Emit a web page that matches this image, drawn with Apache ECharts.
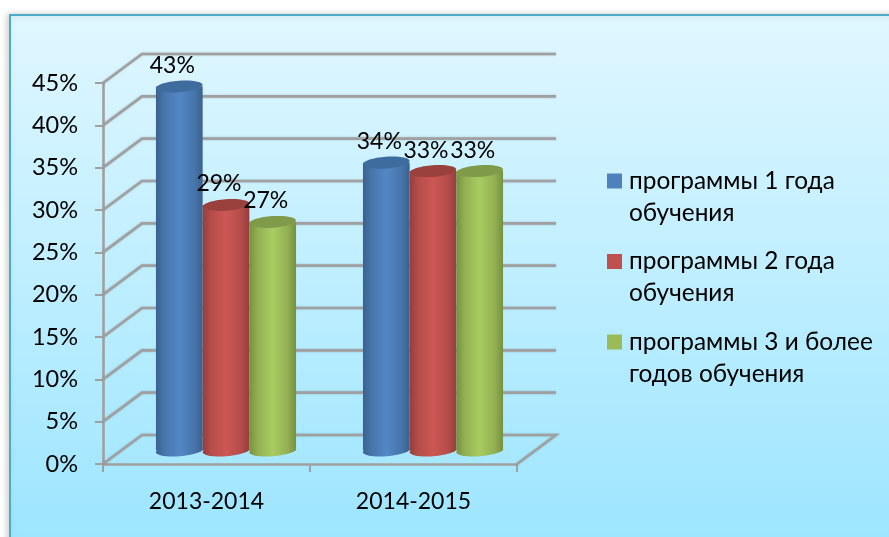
<!DOCTYPE html>
<html>
<head>
<meta charset="utf-8">
<style>
html,body{margin:0;padding:0;background:#fff;}
#main{width:889px;height:537px;}
</style>
<script src="https://cdn.jsdelivr.net/npm/echarts@6/dist/echarts.min.js"></script>
</head>
<body>
<div id="main"></div>
<script>
var categories = ['2013-2014', '2014-2015'];
var seriesNames = ['программы 1 года\nобучения', 'программы 2 года\nобучения', 'программы 3 и более\nгодов обучения'];
var values1 = [43, 34];
var values2 = [29, 33];
var values3 = [27, 33];
var wallTicks = [0, 5, 10, 15, 20, 25, 30, 35, 40, 45];

var fontName = 'Lato, "Noto Sans", sans-serif';
var depthX = 39, depthY = 29;//3d depth of the back wall
var lineColor = '#a0a0a0';

function wallItem(params, api){
	var sys = params.coordSys;
	var y = api.coord([0, api.value(0)])[1];
	var x0 = sys.x, x1 = sys.x + sys.width;
	var pts = [[x0, y], [x0 + depthX, y - depthY], [x1 + depthX, y - depthY]];
	if(api.value(0) == 0){
		pts.push([x1, y]);//floor closes at the right
	}
	return {
		type : 'polyline',
		shape : {points : pts},
		style : {fill : 'none', stroke : lineColor, lineWidth : 2.6, shadowColor : 'rgba(90,90,90,0.35)', shadowBlur : 2}
	};
}

function barItem(colors, index){
	return function(params, api){
		var band = api.size([1, 0])[0];
		var w = band * 0.2256;
		var p = api.coord([api.value(0), api.value(1)]);
		var base = api.coord([api.value(0), 0])[1] - depthY / 2 + 1;
		var top = p[1] - depthY / 2 + 1;
		var cx = p[0] + depthX / 2 + (index - 1) * w;
		var ry = 5.8, tilt = 0.07;
		var grad = new echarts.graphic.LinearGradient(0, 0, 1, 0, [
			{offset : 0, color : colors[0]},
			{offset : 0.18, color : colors[1]},
			{offset : 0.5, color : colors[2]},
			{offset : 0.82, color : colors[1]},
			{offset : 1, color : colors[0]}
		]);
		return {
			type : 'group',
			children : [{
				type : 'ellipse',
				x : cx, y : base, rotation : tilt,
				shape : {cx : 0, cy : 0, rx : w / 2, ry : ry},
				style : {fill : grad}
			}, {
				type : 'rect',
				shape : {x : cx - w / 2, y : top, width : w, height : base - top},
				style : {fill : grad}
			}, {
				type : 'ellipse',
				x : cx, y : top, rotation : tilt,
				shape : {cx : 0, cy : 0, rx : w / 2, ry : ry},
				style : {fill : colors[3]}
			}, {
				type : 'text',
				z2 : 100,
				x : cx - 7, y : top - 21,
				style : {
					text : api.value(1) + '%',
					fill : '#000',
					font : '23px ' + fontName,
					textAlign : 'center',
					textVerticalAlign : 'middle'
				}
			}]
		};
	};
}

function barData(values){
	var arr = [];
	for(var i=0;i<values.length;i++){
		arr.push([i, values[i]]);
	}
	return arr;
}

var barColors = [
	['#3a628f', '#4775ab', '#5387c5', '#3f6c9f'],
	['#933f3c', '#b54d4a', '#cd5754', '#9a413d'],
	['#76913f', '#92b052', '#a8cc62', '#7f9a49']
];
var legendColors = ['#4f81bd', '#c0504d', '#9bbb59'];

var myChart = echarts.init(document.getElementById('main'));
var option = {
	animation : false,
	graphic : [{
		type : 'rect',
		z : -10,
		shape : {x : 10, y : 15, width : 900, height : 540},
		style : {
			fill : new echarts.graphic.LinearGradient(0, 0, 0, 1, [
				{offset : 0, color : '#e0f7ff'},
				{offset : 1, color : '#9be5ff'}
			]),
			stroke : '#4bacc6',
			lineWidth : 2,
			shadowColor : 'rgba(0,0,0,0.18)',
			shadowBlur : 7,
			shadowOffsetX : -2
		}
	}],
	legend : {
		orient : 'vertical',
		left : 607,
		top : 165,
		padding : 0,
		itemWidth : 15,
		itemHeight : 47,
		itemGap : 16.5,
		selectedMode : false,
		//tiny second square stretches the icon so the marker stays on the first text line
		icon : 'path://M0,0H15V15H0Z M0,47H0.01V47.01H0Z',
		textStyle : {fontFamily : fontName, fontSize : 24.4, lineHeight : 32, color : '#000', padding : [0, 0, 0, 2]},
		data : seriesNames
	},
	grid : {left : 103, top : 83, width : 414, height : 381},
	xAxis : {
		type : 'category',
		data : categories,
		axisLine : {lineStyle : {color : lineColor, width : 2.6}},
		axisTick : {show : true, length : 8, alignWithLabel : false, lineStyle : {color : lineColor, width : 2}},
		axisLabel : {color : '#000', fontFamily : fontName, fontSize : 23, margin : 26}
	},
	yAxis : {
		type : 'value',
		min : 0,
		max : 45,
		interval : 5,
		splitLine : {show : false},
		axisLine : {show : true, lineStyle : {color : lineColor, width : 2.6}},
		axisTick : {show : true, length : 8, lineStyle : {color : lineColor, width : 2}},
		axisLabel : {color : '#000', fontFamily : fontName, fontSize : 23.5, margin : 25, padding : [7, 0, 0, 0], formatter : '{value}%'}
	},
	series : [{
		type : 'custom',
		silent : true,
		renderItem : wallItem,
		encode : {y : 0},
		data : wallTicks
	}, {
		name : seriesNames[0],
		type : 'custom',
		renderItem : barItem(barColors[0], 0),
		itemStyle : {color : legendColors[0]},
		encode : {x : 0, y : 1},
		data : barData(values1)
	}, {
		name : seriesNames[1],
		type : 'custom',
		renderItem : barItem(barColors[1], 1),
		itemStyle : {color : legendColors[1]},
		encode : {x : 0, y : 1},
		data : barData(values2)
	}, {
		name : seriesNames[2],
		type : 'custom',
		renderItem : barItem(barColors[2], 2),
		itemStyle : {color : legendColors[2]},
		encode : {x : 0, y : 1},
		data : barData(values3)
	}]
};
myChart.setOption(option);
</script>
</body>
</html>
